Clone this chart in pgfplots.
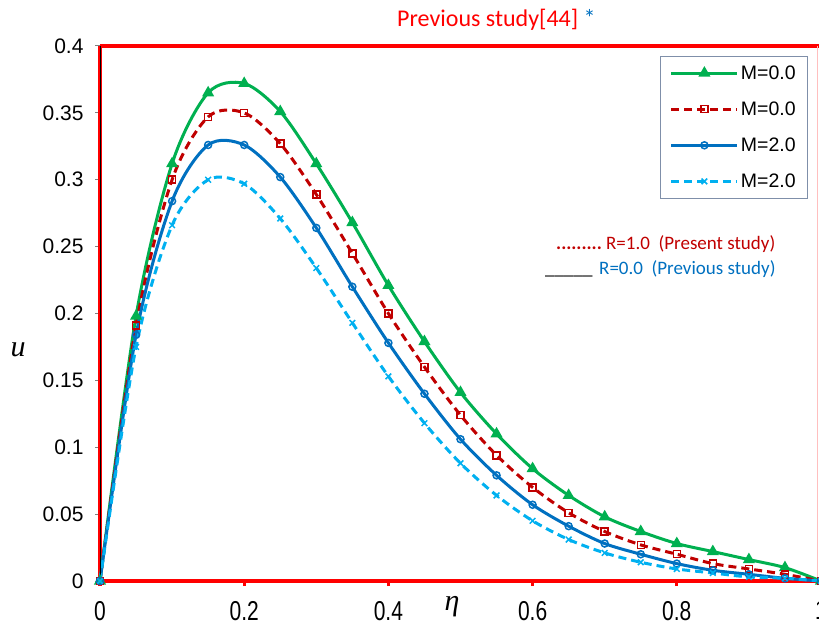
\documentclass[border=0pt]{standalone}
\usepackage{fontspec}
\setmainfont{Liberation Sans}
\newfontfamily\calibri{Carlito}
\newfontfamily\timesf{Liberation Serif}
\usepackage{pgfplots}
\usepackage{pgfplotstable}
\pgfplotsset{compat=1.18}

\definecolor{xlgreen}{HTML}{00B050}
\definecolor{xldarkred}{HTML}{C00000}
\definecolor{xlblue}{HTML}{0070C0}
\definecolor{xlcyan}{HTML}{00B0F0}
\definecolor{legframe}{HTML}{7F8FA9}

% eta, then u for (M, R)
\pgfplotstableread{
eta   m0r0   m0r1   m2r0   m2r1
0.00  0.000  0.000  0.000  0.000
0.05  0.198  0.191  0.184  0.175
0.10  0.312  0.300  0.284  0.266
0.15  0.365  0.347  0.326  0.300
0.20  0.372  0.350  0.326  0.297
0.25  0.351  0.327  0.302  0.271
0.30  0.312  0.289  0.264  0.234
0.35  0.268  0.245  0.220  0.193
0.40  0.221  0.200  0.178  0.153
0.45  0.179  0.160  0.140  0.118
0.50  0.141  0.124  0.106  0.088
0.55  0.110  0.094  0.079  0.064
0.60  0.084  0.070  0.057  0.045
0.65  0.064  0.051  0.041  0.031
0.70  0.048  0.037  0.028  0.021
0.75  0.037  0.027  0.020  0.014
0.80  0.028  0.020  0.013  0.009
0.85  0.022  0.013  0.008  0.006
0.90  0.016  0.009  0.005  0.003
0.95  0.010  0.005  0.002  0.002
1.00  0.000  0.000  0.000  0.000
}\udata

\begin{document}
\begin{tikzpicture}
\begin{axis}[
  at={(100bp,48bp)}, anchor=south west,
  scale only axis, width=721bp, height=535bp,
  xmin=0, xmax=1, ymin=0, ymax=0.4,
  axis x line*=bottom, axis y line*=left,
  axis line style={-, red, line width=4.5bp},
  xtick={0,0.2,0.4,0.6,0.8,1},
  xticklabels={0,0.2,0.4,0.6,0.8,1},
  ytick={0,0.05,0.1,0.15,0.2,0.25,0.3,0.35,0.4},
  yticklabels={0,0.05,0.1,0.15,0.2,0.25,0.3,0.35,0.4},
  tick align=outside, major tick length=5bp,
  x tick style={red, line width=3bp},
  y tick style={gray, line width=1bp},
  xticklabel style={font=\fontsize{21bp}{21bp}\selectfont, yscale=1.3, yshift=-8bp},
  yticklabel style={font=\fontsize{21bp}{21bp}\selectfont, xshift=-8bp},
  clip=false,
  legend style={at={(0.982,0.981)}, anchor=north east, draw=legframe,
    line width=0.8bp, font=\fontsize{19.5bp}{20bp}\selectfont,
    cells={anchor=west}, row sep=17bp, inner xsep=10bp, inner ysep=7bp},
  legend image code/.code={\draw[mark repeat=2,mark phase=2,#1]
    plot coordinates {(0bp,0bp) (33bp,0bp) (66bp,0bp)};},
]
\addplot[xlgreen, line width=3bp, smooth, mark=triangle*, mark size=4bp,
  mark options={solid}] table[x=eta, y=m0r0] {\udata};
\addlegendentry{M=0.0}
\addplot[xldarkred, line width=3bp, smooth, dash pattern=on 8bp off 5bp,
  mark=square, mark size=3.5bp, mark options={solid, line width=1.5bp}]
  table[x=eta, y=m0r1] {\udata};
\addlegendentry{M=0.0}
\addplot[xlblue, line width=3bp, smooth, mark=o, mark size=3.5bp,
  mark options={solid, line width=1.5bp}] table[x=eta, y=m2r0] {\udata};
\addlegendentry{M=2.0}
\addplot[xlcyan, line width=3bp, smooth, dash pattern=on 8bp off 5bp,
  mark=x, mark size=4bp, mark options={solid, line width=1.5bp}]
  table[x=eta, y=m2r1] {\udata};
\addlegendentry{M=2.0}
\draw[red, line width=4.5bp] (rel axis cs:0,1) -- (rel axis cs:1,1);
\draw[red!25, line width=1bp] (rel axis cs:0.9945,0) -- (rel axis cs:0.9945,1);
\draw[black, line width=0.7bp] (rel axis cs:0,0) -- (rel axis cs:0,1);
\end{axis}
% axis titles
\node at (18bp,279bp) {\timesf\itshape\fontsize{30bp}{30bp}\selectfont u};
\node at (452bp,22bp) {\timesf\itshape\fontsize{30bp}{30bp}\selectfont η};
% heading
\node[anchor=base west, inner sep=0pt, text=red] at (397bp,602bp)
  {\calibri\fontsize{24bp}{24bp}\selectfont Previous study[44]\ {\color{xlblue}\fontsize{24bp}{24bp}\selectfont *}};
% notes on line style
\node[anchor=base west, inner sep=0pt, text=xldarkred] at (556bp,379bp)
  {\calibri\fontsize{19bp}{19bp}\selectfont\textbf{.........}\ R=1.0\ \ (Present study)};
\node[anchor=base west, inner sep=0pt] at (545bp,354bp)
  {\calibri\fontsize{19bp}{19bp}\selectfont\_\_\_\_\_};
\node[anchor=base west, inner sep=0pt, text=xlblue] at (599bp,354bp)
  {\calibri\fontsize{19bp}{19bp}\selectfont R=0.0\ \ (Previous study)};
\pgfresetboundingbox
\path (0bp,0bp) rectangle (819bp,629bp);
\end{tikzpicture}
\end{document}
